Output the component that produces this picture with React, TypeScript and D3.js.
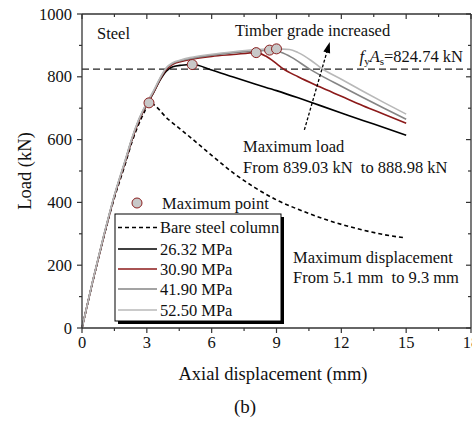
import React from "react";
import * as d3 from "d3";

// ---------- data ----------
const xTicks = [0, 3, 6, 9, 12, 15, 18];
const yTicks = [0, 200, 400, 600, 800, 1000];

const bareDisp = [0, 0.5, 1, 1.5, 2, 2.3, 2.6, 2.9, 3.1, 4, 5, 6, 7, 8, 9, 10, 11, 12, 13, 14, 14.85];
const bareLoad = [0, 148, 288, 415, 522, 590, 645, 690, 717, 664, 608, 550, 494, 447, 408, 378, 352, 330, 312, 297, 288];

const disp26 = [0, 0.5, 1, 1.5, 2, 2.3, 2.6, 3, 3.3, 3.6, 3.9, 4.2, 4.6, 5.1, 6, 7, 8, 9, 10, 11, 12, 13, 14, 15];
const load26 = [0, 150, 290, 420, 530, 598, 655, 712, 748, 788, 818, 832, 837, 839.03, 822, 799, 777, 756, 733, 709, 685, 661, 638, 614];

const disp30 = [0, 0.5, 1, 1.5, 2, 2.3, 2.6, 3, 3.3, 3.6, 3.9, 4.2, 4.6, 5, 6, 7, 8.06, 8.5, 9, 9.3, 10, 11, 12, 13, 14, 15];
const load30 = [0, 150, 290, 420, 530, 598, 655, 713, 749, 790, 823, 840, 849, 855, 865, 871, 877, 866, 842, 826, 800, 768, 738, 708, 680, 652];

const disp41 = [0, 0.5, 1, 1.5, 2, 2.3, 2.6, 3, 3.3, 3.6, 3.9, 4.2, 4.6, 5, 6, 7, 8, 8.68, 9.2, 9.7, 10.5, 11, 12, 13, 14, 15];
const load41 = [0, 151, 292, 422, 533, 601, 658, 716, 752, 793, 827, 843, 852, 858, 869, 877, 882, 885, 878, 862, 826, 806, 770, 734, 699, 665];

const disp52 = [0, 0.5, 1, 1.5, 2, 2.3, 2.6, 3, 3.3, 3.6, 3.9, 4.2, 4.6, 5, 6, 7, 8, 9, 9.6, 10, 10.6, 11.06, 12, 13, 14, 15];
const load52 = [0, 152, 293, 424, 535, 603, 660, 718, 754, 795, 829, 845, 854, 861, 872, 880, 886, 888.98, 887, 877, 852, 828, 792, 754, 717, 681];

const maxDisp = [3.1, 5.1, 8.06, 8.68, 9.0];
const maxLoad = [717, 839.03, 877, 885, 888.98];

const legendLabels = ["Bare steel column", "26.32 MPa", "30.90 MPa", "41.90 MPa", "52.50 MPa"];
const seriesColors = ["#000000", "#000000", "#8c1a1a", "#858585", "#b8b8b8"];

const FONT = "'Liberation Serif', 'Times New Roman', serif";

export default function App() {
  const W = 472, H = 422;
  const left = 82, right = 471, top = 14, bottom = 328;
  const x = d3.scaleLinear().domain([0, 18]).range([left, right]);
  const y = d3.scaleLinear().domain([0, 1000]).range([bottom, top]);

  const mk = (xs: number[], ys: number[]) =>
    d3.line<number>().x((_, i) => x(xs[i])).y((_, i) => y(ys[i])).curve(d3.curveMonotoneX)(xs as any) || "";

  const series = [
    { d: mk(bareDisp, bareLoad), c: seriesColors[0], dash: "4,3", w: 1.6 },
    { d: mk(disp26, load26), c: seriesColors[1], dash: undefined, w: 1.6 },
    { d: mk(disp30, load30), c: seriesColors[2], dash: undefined, w: 1.6 },
    { d: mk(disp41, load41), c: seriesColors[3], dash: undefined, w: 1.6 },
    { d: mk(disp52, load52), c: seriesColors[4], dash: undefined, w: 1.6 },
  ];

  const xMinor = d3.range(0, 18.01, 1.5);
  const yMinor = d3.range(0, 1000.1, 100);
  const axisColor = "#333";

  const fyY = y(824.74);

  // arrow
  const ax1 = x(10.29), ay1 = y(631), ax2 = x(11.44), ay2 = y(905);
  const ang = Math.atan2(ay2 - ay1, ax2 - ax1);
  const hl = 9, hw = 3.5;
  const headPts = [
    [ax2 + Math.cos(ang) * 2, ay2 + Math.sin(ang) * 2],
    [ax2 - Math.cos(ang) * hl + Math.sin(ang) * hw, ay2 - Math.sin(ang) * hl - Math.cos(ang) * hw],
    [ax2 - Math.cos(ang) * hl - Math.sin(ang) * hw, ay2 - Math.sin(ang) * hl + Math.cos(ang) * hw],
  ];

  // legend
  const lgX = 115, lgY = 214, lgW = 166, lgH = 107;
  const rowY = [227.5, 249, 269, 289, 310];

  return (
    <svg width={W} height={H} style={{ position: "absolute", left: 0, top: 0, background: "#fff" }} fontFamily={FONT}>
      <rect x={0} y={0} width={W} height={H} fill="#fff" />
      {/* fyAs line */}
      <line x1={left} x2={right} y1={fyY} y2={fyY} stroke="#222" strokeWidth={1.3} strokeDasharray="7,4" />

      {/* curves */}
      {series.map((s, i) => (
        <path key={i} d={s.d} fill="none" stroke={s.c} strokeWidth={s.w} strokeDasharray={s.dash} />
      ))}

      {/* maximum points */}
      {maxDisp.map((dv, i) => (
        <circle key={i} cx={x(dv)} cy={y(maxLoad[i])} r={5} fill="#c8c8c8" stroke="#8c2020" strokeWidth={1} />
      ))}

      {/* axes frame */}
      <line x1={left} x2={left} y1={top} y2={bottom} stroke={axisColor} strokeWidth={1.3} />
      <line x1={right} x2={right} y1={top} y2={bottom} stroke={axisColor} strokeWidth={1.3} />
      <line x1={left} x2={right} y1={top} y2={top} stroke={axisColor} strokeWidth={1.3} />
      <line x1={left} x2={right} y1={bottom} y2={bottom} stroke={axisColor} strokeWidth={1.3} />

      {/* x ticks */}
      {xMinor.map((v, i) => {
        const major = Math.abs(v % 3) < 1e-6;
        const len = major ? 5 : 3;
        return (
          <g key={i}>
            <line x1={x(v)} x2={x(v)} y1={bottom} y2={bottom + len} stroke={axisColor} strokeWidth={1.2} />
            <line x1={x(v)} x2={x(v)} y1={top} y2={top + len} stroke={axisColor} strokeWidth={1.2} />
          </g>
        );
      })}
      {xTicks.map((v) => (
        <text key={v} x={x(v)} y={348} textAnchor="middle" fontSize={16.5} fill="#111">{v}</text>
      ))}

      {/* y ticks */}
      {yMinor.map((v, i) => {
        const major = Math.abs(v % 200) < 1e-6;
        const len = major ? 5 : 3;
        return (
          <g key={i}>
            <line x1={left - len} x2={left} y1={y(v)} y2={y(v)} stroke={axisColor} strokeWidth={1.2} />
            <line x1={right - len} x2={right} y1={y(v)} y2={y(v)} stroke={axisColor} strokeWidth={1.2} />
          </g>
        );
      })}
      {yTicks.map((v) => (
        <text key={v} x={72} y={y(v) + 5.5} textAnchor="end" fontSize={16.5} fill="#111">{v}</text>
      ))}

      {/* axis titles */}
      <text x={273} y={380} textAnchor="middle" fontSize={18.5} fill="#111">Axial displacement (mm)</text>
      <text transform={`translate(31,${(top + bottom) / 2}) rotate(-90)`} textAnchor="middle" fontSize={18.5} fill="#111">Load (kN)</text>
      <text x={245} y={413} textAnchor="middle" fontSize={19} fill="#111">(b)</text>

      {/* annotations */}
      <text x={97} y={39} fontSize={16.5} fill="#111">Steel</text>
      <text x={235} y={36} fontSize={16.5} fill="#111">Timber grade increased</text>
      <text x={463} y={62} textAnchor="end" fontSize={16.5} fill="#111">
        <tspan fontStyle="italic">f</tspan>
        <tspan fontSize={11} dy={3}>y</tspan>
        <tspan fontStyle="italic" dy={-3}>A</tspan>
        <tspan fontSize={11} dy={3}>s</tspan>
        <tspan dy={-3}>=824.74 kN</tspan>
      </text>
      <text x={243} y={152} fontSize={16.5} fill="#111">Maximum load</text>
      <text x={243} y={173} fontSize={16.5} fill="#111" style={{ whiteSpace: "pre" }}>{"From 839.03 kN  to 888.98 kN"}</text>
      <text x={293} y={263} fontSize={16.5} fill="#111">Maximum displacement</text>
      <text x={293} y={283} fontSize={16.5} fill="#111" style={{ whiteSpace: "pre" }}>{"From 5.1 mm  to 9.3 mm"}</text>

      {/* arrow */}
      <line x1={ax1} y1={ay1} x2={ax2} y2={ay2} stroke="#000" strokeWidth={1.3} strokeDasharray="3,2" />
      <polygon points={headPts.map((p) => p.join(",")).join(" ")} fill="#000" />

      {/* legend */}
      <circle cx={137} cy={203} r={5} fill="#c8c8c8" stroke="#8c2020" strokeWidth={1} />
      <text x={162} y={208.5} fontSize={16.5} fill="#111">Maximum point</text>
      <rect x={lgX + 3} y={lgY + 3} width={lgW} height={lgH} fill="#000" />
      <rect x={lgX} y={lgY} width={lgW} height={lgH} fill="#fff" stroke="#000" strokeWidth={1} />
      {legendLabels.map((lab, i) => (
        <g key={lab}>
          <line x1={118} x2={157} y1={rowY[i]} y2={rowY[i]} stroke={seriesColors[i]} strokeWidth={1.6}
            strokeDasharray={i === 0 ? "4,3" : undefined} />
          <text x={160} y={rowY[i] + 5.5} fontSize={16.5} fill="#111">{lab}</text>
        </g>
      ))}
    </svg>
  );
}
